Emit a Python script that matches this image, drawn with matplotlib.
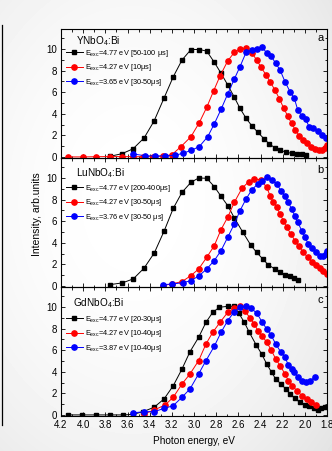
import numpy as np
import matplotlib
matplotlib.use('Agg')
import matplotlib.pyplot as plt
from matplotlib.ticker import MultipleLocator

plt.rcParams['font.family'] = ['Liberation Sans', 'DejaVu Sans']
plt.rcParams['mathtext.fontset'] = 'custom'
plt.rcParams['mathtext.rm'] = 'Liberation Sans'
plt.rcParams['mathtext.it'] = 'Liberation Sans:italic'

# --- panel a: YNbO4:Bi ---
black_a_E = [3.76, 3.65, 3.55, 3.45, 3.36, 3.27, 3.187, 3.108, 3.027, 2.952, 2.885, 2.817, 2.756, 2.696,
             2.636, 2.585, 2.53, 2.477, 2.425, 2.37, 2.32, 2.27, 2.22, 2.17, 2.12, 2.075, 2.03, 1.985]
black_a = [0.05, 0.3, 0.75, 1.76, 3.33, 5.46, 7.43, 8.98, 9.95, 9.95, 9.8, 8.77, 7.75, 6.67,
           5.53, 4.5, 3.58, 2.87, 2.29, 1.7, 1.2, 0.85, 0.6, 0.45, 0.33, 0.27, 0.23, 0.2]
red_a_E = [4.14, 4.00, 3.88, 3.76, 3.65, 3.55, 3.46, 3.37, 3.28, 3.20, 3.117, 3.027, 2.952, 2.885,
           2.822, 2.765, 2.696, 2.636, 2.585, 2.53, 2.477, 2.434, 2.395, 2.35, 2.31, 2.27, 2.23, 2.19,
           2.155, 2.12, 2.085, 2.05, 2.015, 1.98, 1.945, 1.91, 1.875, 1.845, 1.815, 1.80]
red_a = [0, 0, 0.02, 0.03, 0.03, 0.02, 0.02, 0.03, 0.06, 0.2, 0.96, 1.88, 3.18, 4.6,
         6.14, 7.5, 8.89, 9.69, 9.97, 10.06, 9.6, 8.98, 8.3, 7.6, 6.9, 6.2, 5.4, 4.5,
         3.8, 3.1, 2.5, 1.95, 1.55, 1.25, 0.95, 0.75, 0.65, 0.65, 0.85, 1.15]
blue_a_E = [3.55, 3.44, 3.35, 3.26, 3.17, 3.10, 3.027, 2.952, 2.876, 2.817, 2.756, 2.696, 2.636,
            2.585, 2.53, 2.48, 2.434, 2.384, 2.344, 2.305, 2.263, 2.224, 2.179, 2.134, 2.095,
            2.064, 2.028, 1.992, 1.962, 1.923, 1.884, 1.848, 1.812]
blue_a = [0.28, 0.1, 0.1, 0.1, 0.15, 0.34, 0.6, 0.96, 1.88, 3.06, 4.41, 5.83, 7.22,
          8.36, 9.69, 9.9, 9.97, 10.2, 9.6, 9.35, 8.67, 8.06, 6.97, 6.05, 5.43,
          4.35, 3.8, 3.49, 2.8, 2.65, 2.43, 2.04, 1.73]

# --- panel b: LuNbO4:Bi ---
black_b_E = [3.758, 3.647, 3.548, 3.451, 3.358, 3.268, 3.187, 3.108, 3.027, 2.958, 2.885, 2.817, 2.756,
             2.696, 2.636, 2.561, 2.486, 2.434, 2.38, 2.33, 2.27, 2.224, 2.179, 2.134, 2.095, 2.059]
black_b = [0.12, 0.28, 0.65, 1.64, 3.06, 5.12, 7.19, 8.67, 9.6, 10.0, 9.97, 9.2, 8.3,
           7.44, 6.3, 5.0, 3.75, 3.1, 2.5, 1.95, 1.57, 1.27, 1.02, 0.9, 0.77, 0.58]
red_b_E = [3.28, 3.20, 3.108, 3.027, 2.958, 2.885, 2.817, 2.756, 2.696, 2.636, 2.567, 2.506, 2.456,
           2.40, 2.344, 2.314, 2.284, 2.254, 2.224, 2.194, 2.164, 2.125, 2.09, 2.053, 2.014, 1.974,
           1.938, 1.902, 1.863, 1.833, 1.803]
red_b = [0.03, 0.19, 0.4, 0.96, 1.57, 2.65, 3.73, 5.22, 6.36, 7.75, 9.04, 9.66, 9.9,
         9.84, 9.14, 8.36, 7.75, 7.29, 6.67, 6.05, 5.43, 4.81, 4.2, 3.67, 3.12, 2.65,
         2.25, 1.94, 1.64, 1.42, 1.11]
blue_b_E = [3.28, 3.20, 3.10, 3.027, 2.952, 2.885, 2.817, 2.756, 2.696, 2.636, 2.585, 2.53, 2.477,
            2.425, 2.384, 2.344, 2.30, 2.254, 2.215, 2.179, 2.149, 2.12, 2.09, 2.064, 2.028, 1.998,
            1.969, 1.938, 1.902, 1.863, 1.833, 1.812, 1.80]
blue_b = [0.12, 0.17, 0.3, 0.49, 0.96, 1.57, 2.35, 3.27, 4.5, 5.74, 6.97, 8.06, 8.92,
          9.44, 9.75, 10.06, 9.84, 9.44, 8.83, 8.3, 7.75, 7.13, 6.5, 5.9, 5.12, 4.5,
          3.89, 3.49, 3.12, 2.8, 2.75, 2.96, 3.2]

# --- panel c: GdNbO4:Bi ---
black_c_E = [4.14, 4.01, 3.88, 3.76, 3.64, 3.55, 3.457, 3.36, 3.27, 3.187, 3.108, 3.036, 2.958,
             2.892, 2.831, 2.771, 2.696, 2.636, 2.597, 2.546, 2.501, 2.44, 2.39, 2.344, 2.30,
             2.263, 2.215, 2.173, 2.134, 2.09, 2.046, 2.0, 1.964, 1.92, 1.878, 1.85, 1.82]
black_c = [0, 0, 0, 0, 0, 0.05, 0.31, 0.71, 1.48, 2.71, 4.26, 5.86, 7.19,
           8.58, 9.5, 9.97, 10.06, 10.06, 9.44, 8.58, 7.65, 6.5, 5.65, 4.72, 3.95,
           3.33, 2.87, 2.41, 1.94, 1.54, 1.17, 0.93, 0.8, 0.6, 0.49, 0.65, 0.71]
red_c_E = [3.45, 3.36, 3.26, 3.187, 3.108, 3.036, 2.958, 2.892, 2.831, 2.765, 2.696, 2.636, 2.585,
           2.54, 2.495, 2.456, 2.42, 2.384, 2.344, 2.305, 2.263, 2.224, 2.179, 2.149, 2.113, 2.073,
           2.028, 1.983, 1.944, 1.902]
red_c = [0.1, 0.45, 0.93, 1.64, 2.87, 3.8, 5.03, 6.57, 7.65, 8.58, 9.5, 9.88, 10.06,
         9.6, 9.0, 8.4, 7.75, 7.3, 6.73, 6.05, 5.19, 4.57, 3.8, 3.18, 2.71, 2.25,
         1.79, 1.48, 1.23, 0.93]
blue_c_E = [3.55, 3.45, 3.36, 3.27, 3.187, 3.108, 3.036, 2.958, 2.892, 2.817, 2.756, 2.696, 2.636,
            2.585, 2.53, 2.486, 2.434, 2.384, 2.344, 2.305, 2.263, 2.215, 2.179, 2.149, 2.12, 2.095,
            2.064, 2.028, 1.992, 1.953, 1.908]
blue_c = [0.19, 0.3, 0.3, 0.6, 0.86, 1.64, 2.41, 3.8, 5.03, 6.36, 7.65, 8.73, 9.57,
          9.97, 10.06, 9.88, 9.44, 8.58, 7.96, 7.4, 6.57, 5.8, 5.34, 4.63, 4.3, 3.95,
          3.49, 3.18, 3.09, 3.18, 3.49]

samples = ['YNbO$_4$:Bi', 'LuNbO$_4$:Bi', 'GdNbO$_4$:Bi']
panel_tags = ['a', 'b', 'c']
labels_a = ['4.77 eV [50-100 \u03bcs]', '4.27 eV [10\u03bcs]', '3.65 eV [30-50\u03bcs]']
labels_b = ['4.77 eV [200-400\u03bcs]', '4.27 eV [30-50\u03bcs]', '3.76 eV [30-50 \u03bcs]']
labels_c = ['4.77 eV [20-30\u03bcs]', '4.27 eV [10-40\u03bcs]', '3.87 eV [10-40\u03bcs]']

panels = [
    [(black_a_E, black_a), (red_a_E, red_a), (blue_a_E, blue_a)],
    [(black_b_E, black_b), (red_b_E, red_b), (blue_b_E, blue_b)],
    [(black_c_E, black_c), (red_c_E, red_c), (blue_c_E, blue_c)],
]
all_labels = [labels_a, labels_b, labels_c]

W, H = 332, 451
fig = plt.figure(figsize=(W / 100, H / 100), dpi=100)

# soft grey background like the scanned figure, lighter on the left
bg = fig.add_axes([0, 0, 1, 1], zorder=-10)
yy, xx = np.mgrid[0:1:H * 1j, 0:1:W * 1j]
r2 = ((xx - 0.4) / 0.7) ** 2 + ((yy - 0.45) / 0.7) ** 2
bg.imshow(1 - 0.08 * r2, cmap='gray', vmin=0, vmax=1, aspect='auto', extent=[0, 1, 0, 1])
bg.axis('off')

# edge of the neighbouring figure on the left
fig.add_artist(plt.Line2D([1.5 / W, 1.5 / W], [1 - 25 / H, 1 - 425 / H], color='k', lw=0.9))

left, right = 61, 327
tops = [29, 158, 287]
ph = 129
title_y = [12, 15, 16]
leg_y = [19, 25, 27]
tag_y = [9, 12, 13]
styles = [('s', 'black', 3.2), ('o', '#ff0000', 3.8), ('o', '#0000ff', 3.8)]

for i in range(3):
    ax = fig.add_axes([left / W, 1 - (tops[i] + ph) / H, (right - left) / W, ph / H])
    ax.set_facecolor('none')
    for (E, v), lab, (mk, col, ms) in zip(panels[i], all_labels[i], styles):
        ax.plot(E, v, marker=mk, color=col, ms=ms, lw=0.7,
                label='E$_{\\rm exc}$=' + lab)
    ax.set_xlim(4.2, 1.8)
    ax.set_ylim(-0.1, 11.85)
    ax.xaxis.set_major_locator(MultipleLocator(0.2))
    ax.xaxis.set_minor_locator(MultipleLocator(0.1))
    ax.yaxis.set_major_locator(MultipleLocator(2))
    ax.yaxis.set_minor_locator(MultipleLocator(1))
    ax.tick_params(which='both', direction='in', top=True, right=True, width=0.6,
                   labelsize=7, pad=3)
    ax.tick_params(which='major', length=3.2)
    ax.tick_params(which='minor', length=1.8)
    for s in ax.spines.values():
        s.set_linewidth(0.8)
    if i < 2:
        ax.tick_params(labelbottom=False)
    ax.text((76 - left) / (right - left) if i < 2 else (73 - left) / (right - left),
            1 - title_y[i] / ph, samples[i], transform=ax.transAxes, fontsize=7.2, va='center')
    ax.text(0.975, 1 - tag_y[i] / ph, panel_tags[i], transform=ax.transAxes, fontsize=8,
            va='center', ha='center')
    ax.legend(loc='upper left', bbox_to_anchor=((66 - left) / (right - left), 1 - leg_y[i] / ph),
              frameon=False, fontsize=5.3, handlelength=2.3, handletextpad=0.25,
              labelspacing=0.45, borderaxespad=0, borderpad=0)

fig.text(37 / W, 1 - 214 / H, 'Intensity, arb.units', rotation=90, ha='center', va='center', fontsize=7.5)
fig.text(194 / W, 1 - 441 / H, 'Photon energy, eV', ha='center', va='center', fontsize=7.2)

fig.savefig('out.png', dpi=100)
